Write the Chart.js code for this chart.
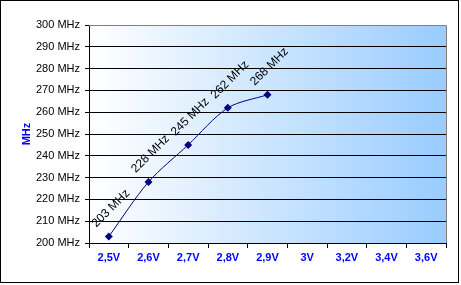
<!DOCTYPE html>
<html>
<head>
<meta charset="utf-8">
<script src="https://cdn.jsdelivr.net/npm/chart.js@4.4.1/dist/chart.umd.min.js"></script>
<style>
  body { margin: 0; background: #fff; }
</style>
</head>
<body>
<canvas id="myChart" width="461" height="285"></canvas>
<script>
const voltages = ['2,5V', '2,6V', '2,7V', '2,8V', '2,9V', '3V', '3,2V', '3,4V', '3,6V'];
const mhz = [203, 228, 245, 262, 268, null, null, null, null];
const yTicks = [200, 300, 10]; // min, max, step

// plot background gradient + outer frame
const backdrop = {
  id: 'backdrop',
  beforeDraw(chart) {
    const { ctx, chartArea: a } = chart;
    ctx.save();
    ctx.fillStyle = '#fff';
    ctx.fillRect(0, 0, chart.width, chart.height);
    const g = ctx.createLinearGradient(a.left, 0, a.right, 0);
    g.addColorStop(0, '#ffffff');
    g.addColorStop(1, '#99ccff');
    ctx.fillStyle = g;
    ctx.fillRect(a.left, a.top, a.right - a.left, a.bottom - a.top);
    ctx.restore();
  },
  afterDraw(chart) {
    const { ctx, chartArea: a } = chart;
    ctx.save();
    ctx.strokeStyle = '#808080';
    ctx.lineWidth = 1;
    ctx.beginPath();
    ctx.moveTo(a.left, a.top + 0.5);
    ctx.lineTo(a.right + 0.5, a.top + 0.5);
    ctx.lineTo(a.right + 0.5, a.bottom);
    ctx.stroke();
    ctx.strokeStyle = '#000';
    ctx.strokeRect(0.5, 0.5, 458, 282);
    ctx.restore();
  }
};

// rotated value labels
const valueLabels = {
  id: 'valueLabels',
  afterDatasetsDraw(chart) {
    const { ctx } = chart;
    const meta = chart.getDatasetMeta(0);
    ctx.save();
    ctx.font = '12px "Liberation Sans", Arial, sans-serif';
    ctx.fillStyle = '#000';
    ctx.textAlign = 'center';
    ctx.textBaseline = 'middle';
    meta.data.forEach((pt, i) => {
      if (mhz[i] == null) return;
      ctx.save();
      ctx.translate(pt.x + 2, pt.y - 28);
      ctx.rotate(-Math.PI / 4);
      ctx.fillText(mhz[i] + ' MHz', 0, 0);
      ctx.restore();
    });
    ctx.restore();
  }
};

const ctx = document.getElementById('myChart');
new Chart(ctx, {
  type: 'line',
  data: {
    labels: voltages,
    datasets: [{
      data: mhz,
      borderColor: '#000080',
      backgroundColor: '#000080',
      borderWidth: 1,
      tension: 0.3,
      pointStyle: 'rectRot',
      pointRadius: 4,
      pointBorderWidth: 0,
      pointBackgroundColor: '#000080'
    }]
  },
  options: {
    responsive: false,
    maintainAspectRatio: false,
    animation: false,
    layout: { padding: { top: 25, right: 15, left: 0, bottom: 0 } },
    plugins: { legend: { display: false }, tooltip: { enabled: false } },
    scales: {
      x: {
        offset: true,
        grid: { offset: true, drawOnChartArea: false, drawTicks: true, tickLength: 5, color: '#000' },
        border: { color: '#000' },
        ticks: {
          color: '#0000ff',
          padding: 3,
          maxRotation: 0,
          font: { family: '"Liberation Sans", Arial, sans-serif', size: 11, weight: 'bold' }
        },
        afterFit(scale) { scale.height = 42; }
      },
      y: {
        min: yTicks[0],
        max: yTicks[1],
        ticks: {
          stepSize: yTicks[2],
          color: '#000',
          padding: 5,
          font: { family: '"Liberation Sans", Arial, sans-serif', size: 11 },
          callback: v => v + ' MHz'
        },
        grid: {
          color: c => (c.tick && c.tick.value === yTicks[1]) ? 'rgba(0,0,0,0)' : '#000',
          tickColor: '#000',
          tickLength: 4
        },
        border: { color: '#000' },
        title: {
          display: true,
          text: 'MHz',
          color: '#0000ff',
          padding: { top: 20, bottom: 0 },
          font: { family: '"Liberation Sans", Arial, sans-serif', size: 11, weight: 'bold' }
        },
        afterFit(scale) { scale.width = 89; }
      }
    }
  },
  plugins: [backdrop, valueLabels]
});
</script>
</body>
</html>
